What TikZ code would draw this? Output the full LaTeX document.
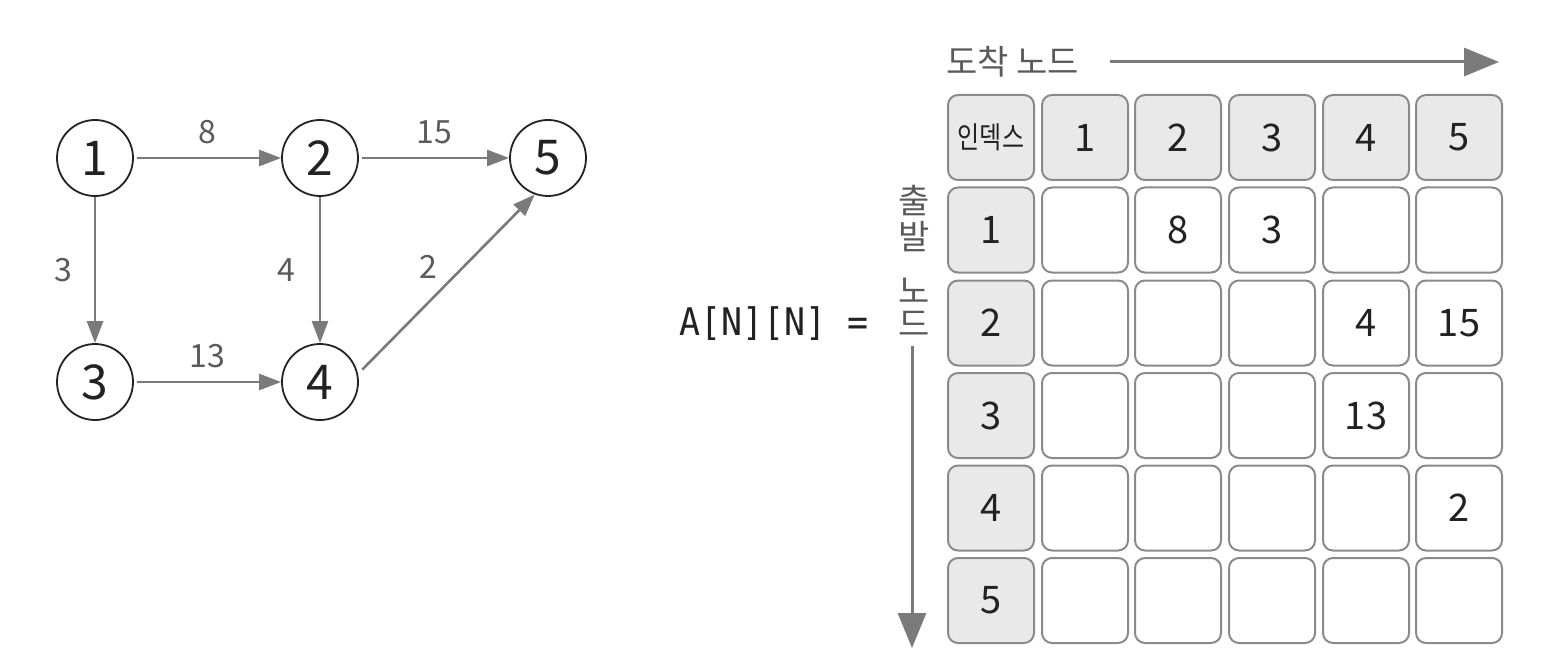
\documentclass[tikz,border=0pt]{standalone}
\usepackage{fontspec}
\setmainfont{Noto Sans CJK KR}
\newfontfamily\monof{DejaVu Sans Mono}
\usetikzlibrary{arrows.meta,positioning}
\definecolor{edgegray}{HTML}{7A7A7A}
\definecolor{labgray}{HTML}{5A5A5A}
\definecolor{cellborder}{HTML}{8A8A8A}
\definecolor{cellfill}{HTML}{E9E9E9}
\definecolor{ink}{HTML}{222222}
\begin{document}
\begin{tikzpicture}[x=1pt,y=-1pt,
  vert/.style={circle,draw=ink,line width=1.8pt,minimum size=76pt,inner sep=0pt,text=ink,font=\fontsize{48}{48}\selectfont},
  edge/.style={draw=edgegray,line width=2.6pt,-{Triangle[length=22pt,width=16pt]}},
  elabel/.style={text=labgray,inner sep=0pt,font=\fontsize{32}{32}\selectfont},
  basecell/.style={draw=cellborder,rounded corners=10pt,line width=2pt,minimum width=86pt,minimum height=85pt,inner sep=0pt,text=ink,font=\fontsize{38}{38}\selectfont},
  hcell/.style={basecell,fill=cellfill},
  cell/.style={basecell,fill=white},
  val/.style={inner sep=0pt,text=ink,font=\fontsize{38}{38}\selectfont},
  krlabel/.style={inner sep=0pt,text=labgray,font=\fontsize{34}{34}\selectfont},
  bigarrow/.style={draw=edgegray,line width=3pt,-{Triangle[length=35pt,width=28pt]}}
]
\useasboundingbox (0,0) rectangle (1546,668);

% graph
\node[vert] (n1) at (95,158) {1};
\node[vert] (n2) at (320,158) {2};
\node[vert] (n5) at (548,158) {5};
\node[vert] (n3) at (95,382) {3};
\node[vert] (n4) at (320,382) {4};

\draw[edge,shorten <=3pt] (n1) -- node[elabel,above=13pt] (l8) {8} (n2);
\draw[edge,shorten <=3pt] (n2) -- node[elabel,above=13pt] (l15) {15} (n5);
\draw[edge] (n1) -- node[elabel,left=21pt] (l3) {3} (n3);
\draw[edge] (n2) -- node[elabel,left=23pt] (l4) {4} (n4);
\draw[edge,shorten <=3pt] (n3) -- node[elabel,above=13pt] (l13) {13} (n4);
\draw[edge,shorten <=6pt] (n4.12) -- node[elabel,above left=4pt and 8pt] (l2) {2} (n5.250);

% A[N][N] =
\node[inner sep=0pt,text=ink,font=\monof\fontsize{38}{38}\selectfont] (eq) at (774,324) {\scalebox{0.92}[1]{A[N][N] =}};

% column header label
\node[krlabel,anchor=west] (dest) at (946,62) {도착 노드};
\coordinate (hend) at (1499,62);
\draw[bigarrow] (1110,62) -- (hend);

% row label (vertical)
\node[krlabel] (s1) at (914,201) {출};
\node[krlabel] (s2) at (914,237) {발};
\node[krlabel] (s3) at (914,291) {노};
\node[krlabel] (s4) at (914,324) {드};
\coordinate (vstart) at (912,346);
\coordinate (vend) at (912,648);
\draw[bigarrow] (vstart) -- (vend);

% matrix
\node[hcell] (h0) at (991,137.5) {\fontsize{30}{30}\selectfont\scalebox{0.8}[1]{인덱스}};
\foreach \c/\x in {1/1085,2/1178,3/1272,4/1366,5/1459}
  \node[hcell] (h\c) at (\x,137.5) {\c};
\foreach \r/\y in {1/230,2/323,3/415.5,4/508,5/600.5} {
  \node[hcell] (r\r) at (991,\y) {\r};
  \foreach \c/\x in {1/1085,2/1178,3/1272,4/1366,5/1459}
    \node[cell] (m\r\c) at (\x,\y) {};
}
\node[val] (v12) at (m12) {8};
\node[val] (v13) at (m13) {3};
\node[val] (v24) at (m24) {4};
\node[val] (v25) at (m25) {15};
\node[val] (v34) at (m34) {13};
\node[val] (v45) at (m45) {2};
\end{tikzpicture}
\end{document}
